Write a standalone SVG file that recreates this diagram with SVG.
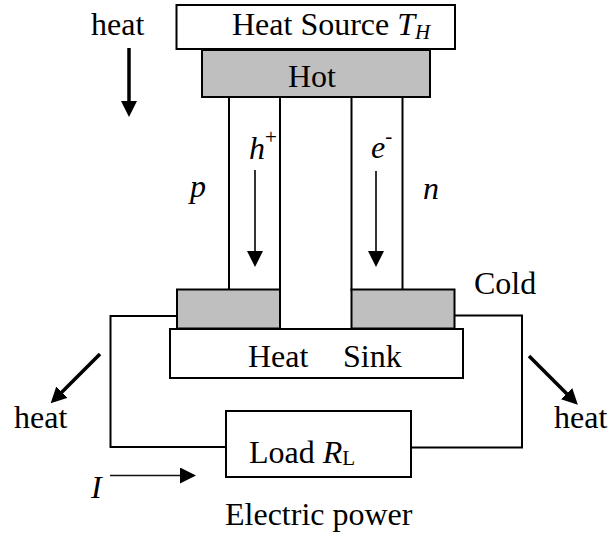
<svg xmlns="http://www.w3.org/2000/svg" width="608" height="537" viewBox="0 0 608 537">
<defs>
<marker id="bigHead" markerUnits="userSpaceOnUse" markerWidth="16" markerHeight="16" refX="12" refY="8" orient="auto"><path d="M0 0L16 8L0 16Z" fill="#000"/></marker>
<marker id="thinHead" markerUnits="userSpaceOnUse" markerWidth="16" markerHeight="16" refX="12" refY="8" orient="auto"><path d="M0 0L16 8L0 16Z" fill="#000"/></marker>
</defs>
<style>
text{font-family:"Liberation Serif","Times New Roman",serif;font-size:32px;fill:#000}
.i{font-style:italic}
.box{fill:#fff;stroke:#000;stroke-width:2}
.gray{fill:#bfbfbf;stroke:#000;stroke-width:2}
.wire{fill:none;stroke:#000;stroke-width:2}
.heavy{fill:none;stroke:#000;stroke-width:3.5;marker-end:url(#bigHead)}
.thin{fill:none;stroke:#111;stroke-width:1.7;marker-end:url(#thinHead)}
</style>
<rect width="608" height="537" fill="#fff"/>
<g id="leg-p"><rect class="box" x="229" y="97" width="51" height="193"/></g>
<g id="leg-n"><rect class="box" x="351.500" y="97" width="51" height="193"/></g>
<g id="heat-source"><rect class="box" x="176.500" y="5" width="278.500" height="44"/><text x="232" y="35">Heat Source <tspan class="i">T</tspan><tspan class="i" font-size="21" dy="4">H</tspan></text></g>
<g id="hot"><rect class="gray" x="202" y="50" width="228" height="47"/><text x="288" y="87">Hot</text></g>
<g id="cold-left"><rect class="gray" x="177" y="289.500" width="103" height="39"/></g>
<g id="cold-right"><rect class="gray" x="351.500" y="289.500" width="103" height="39"/></g>
<g id="heat-sink"><rect class="box" x="170" y="329" width="293" height="49"/><text x="248" y="367">Heat<tspan x="343">Sink</tspan></text></g>
<g id="load"><rect class="box" x="226" y="411" width="185" height="66"/><text x="249" y="463">Load <tspan class="i">R</tspan><tspan font-size="21" dy="2">L</tspan></text></g>
<g id="connectors">
<path class="wire" d="M177 316H110.500V447H226"/>
<path class="wire" d="M454 315.500H522V447.500H410"/>
<path class="heavy" d="M129 48V113"/>
<path class="heavy" d="M100 354L53.500 400.500"/>
<path class="heavy" d="M529 356L575 402"/>
<path class="thin" d="M255 170V263"/>
<path class="thin" d="M376 171V263"/>
<path class="thin" d="M110 475.500H192"/>
</g>
<g id="labels">
<text x="91" y="35">heat</text>
<text x="14" y="428">heat</text>
<text x="554" y="428">heat</text>
<text x="474" y="294">Cold</text>
<text x="225" y="525">Electric power</text>
<text class="i" x="190" y="197">p</text>
<text class="i" x="423" y="199">n</text>
<text class="i" x="249" y="159">h<tspan font-size="21" font-style="normal" dy="-15">+</tspan></text>
<text class="i" x="371" y="158">e<tspan font-size="21" font-style="normal" dy="-15">-</tspan></text>
<text class="i" x="91" y="498">I</text>
</g>
</svg>
